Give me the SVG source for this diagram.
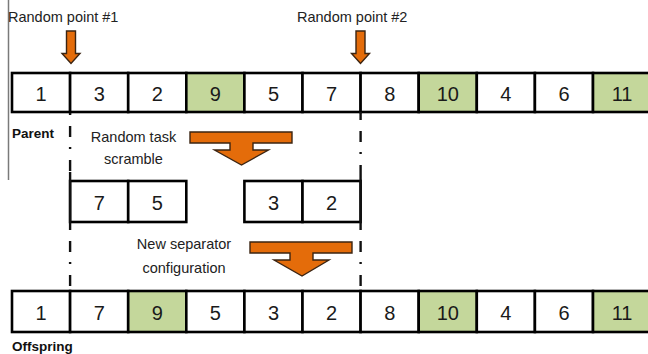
<svg xmlns="http://www.w3.org/2000/svg" width="648" height="354" viewBox="0 0 648 354">
  <style>
    .cell { fill: #ffffff; stroke: #000000; stroke-width: 2.6; }
    .hi { fill: #c4d79b; }
    .num { font-family: "Liberation Sans", Arial, sans-serif; font-size: 20px; fill: #1a1a1a; text-anchor: middle; }
    .lbl { font-family: "Liberation Sans", Arial, sans-serif; font-size: 14.5px; fill: #222222; }
    .mid { text-anchor: middle; }
    .bold { font-family: "Liberation Sans", Arial, sans-serif; font-size: 13.5px; font-weight: bold; fill: #111111; }
    .orange { fill: #e46c0a; stroke: #3b2412; stroke-width: 1.4; stroke-linejoin: miter; }
    .cut { fill: none; stroke: #111111; stroke-width: 2.4; stroke-dasharray: 2 11 11 10; }
  </style>

  <!-- frame edge on the left -->
  <line x1="8.5" y1="0" x2="8.5" y2="180" stroke="#7a7a7a" stroke-width="1.5"/>

  <!-- labels for the crossover points -->
  <text class="lbl" x="8" y="22">Random point #1</text>
  <text class="lbl" x="297" y="22">Random point #2</text>

  <!-- parent chromosome -->
  <g id="parent">
    <rect class="cell" x="12" y="73" width="58.1" height="39"/>
    <rect class="cell" x="70.1" y="73" width="58.1" height="39"/>
    <rect class="cell" x="128.2" y="73" width="58.1" height="39"/>
    <rect class="cell hi" x="186.3" y="73" width="58.1" height="39"/>
    <rect class="cell" x="244.4" y="73" width="58.1" height="39"/>
    <rect class="cell" x="302.5" y="73" width="58.1" height="39"/>
    <rect class="cell" x="360.6" y="73" width="58.1" height="39"/>
    <rect class="cell hi" x="418.7" y="73" width="58.1" height="39"/>
    <rect class="cell" x="476.8" y="73" width="58.1" height="39"/>
    <rect class="cell" x="534.9" y="73" width="58.1" height="39"/>
    <rect class="cell hi" x="593" y="73" width="58.1" height="39"/>
    <text class="num" x="41" y="101">1</text>
    <text class="num" x="99.2" y="101">3</text>
    <text class="num" x="157.3" y="101">2</text>
    <text class="num" x="215.4" y="101">9</text>
    <text class="num" x="273.5" y="101">5</text>
    <text class="num" x="331.6" y="101">7</text>
    <text class="num" x="389.7" y="101">8</text>
    <text class="num" x="447.8" y="101">10</text>
    <text class="num" x="505.9" y="101">4</text>
    <text class="num" x="564" y="101">6</text>
    <text class="num" x="622.1" y="101">11</text>
    <text class="bold" x="12" y="138">Parent</text>
  </g>

  <!-- scrambled segment -->
  <g id="segment-left">
    <rect class="cell" x="70.1" y="181" width="58.1" height="41"/>
    <rect class="cell" x="128.2" y="181" width="58.1" height="41"/>
    <text class="num" x="99.2" y="210">7</text>
    <text class="num" x="157.3" y="210">5</text>
  </g>
  <g id="segment-right">
    <rect class="cell" x="244.4" y="181" width="58.1" height="41"/>
    <rect class="cell" x="302.5" y="181" width="58.1" height="41"/>
    <text class="num" x="273.5" y="210">3</text>
    <text class="num" x="331.6" y="210">2</text>
  </g>

  <!-- offspring chromosome -->
  <g id="offspring">
    <rect class="cell" x="12" y="291" width="58.1" height="41"/>
    <rect class="cell" x="70.1" y="291" width="58.1" height="41"/>
    <rect class="cell hi" x="128.2" y="291" width="58.1" height="41"/>
    <rect class="cell" x="186.3" y="291" width="58.1" height="41"/>
    <rect class="cell" x="244.4" y="291" width="58.1" height="41"/>
    <rect class="cell" x="302.5" y="291" width="58.1" height="41"/>
    <rect class="cell" x="360.6" y="291" width="58.1" height="41"/>
    <rect class="cell hi" x="418.7" y="291" width="58.1" height="41"/>
    <rect class="cell" x="476.8" y="291" width="58.1" height="41"/>
    <rect class="cell" x="534.9" y="291" width="58.1" height="41"/>
    <rect class="cell hi" x="593" y="291" width="58.1" height="41"/>
    <text class="num" x="41" y="320">1</text>
    <text class="num" x="99.2" y="320">7</text>
    <text class="num" x="157.3" y="320">9</text>
    <text class="num" x="215.4" y="320">5</text>
    <text class="num" x="273.5" y="320">3</text>
    <text class="num" x="331.6" y="320">2</text>
    <text class="num" x="389.7" y="320">8</text>
    <text class="num" x="447.8" y="320">10</text>
    <text class="num" x="505.9" y="320">4</text>
    <text class="num" x="564" y="320">6</text>
    <text class="num" x="622.1" y="320">11</text>
    <text class="bold" x="12" y="351">Offspring</text>
  </g>

  <!-- step labels -->
  <g id="step-scramble">
    <text class="lbl mid" x="133.5" y="142">Random task</text>
    <text class="lbl mid" x="133.5" y="164">scramble</text>
  </g>
  <g id="step-separator">
    <text class="lbl mid" x="184" y="249">New separator</text>
    <text class="lbl mid" x="184" y="273">configuration</text>
  </g>

  <!-- connectors: cut lines and arrows -->
  <g id="connectors">
    <path class="cut" d="M70.1 113 V172"/>
    <path d="M70.1 172 V228" stroke="#111111" stroke-width="2.4"/>
    <path class="cut" d="M70.1 228 V291" stroke-dasharray="0 9 15 8 2 10 15 10"/>
    <path d="M360.6 112 V118" stroke="#111111" stroke-width="2.4"/>
    <path class="cut" d="M360.6 118 V176" stroke-dasharray="0 13 2 9 13 10 2 10"/>
    <path d="M360.6 176 V228" stroke="#111111" stroke-width="2.4"/>
    <path class="cut" d="M360.6 228 V291" stroke-dasharray="0 13 2 9 12 9 2 10 8"/>

    <!-- crossover point markers -->
    <polygon class="orange" points="66.5,31 75.5,31 75.5,53.5 80,53.5 71,63.5 62,53.5 66.5,53.5"/>
    <polygon class="orange" points="356,31 365,31 365,53.5 369.5,53.5 360.5,63.5 351.5,53.5 356,53.5"/>

    <!-- step arrows -->
    <polygon class="orange" points="190,132 292,132 292,143 253,143 253,150 268.5,150 241.5,165 214.5,150 230,150 230,143 190,143"/>
    <polygon class="orange" points="250,242 352,242 352,253 313,253 313,260 329,260 302,276 274,260 290,260 290,253 250,253"/>
  </g>
</svg>
